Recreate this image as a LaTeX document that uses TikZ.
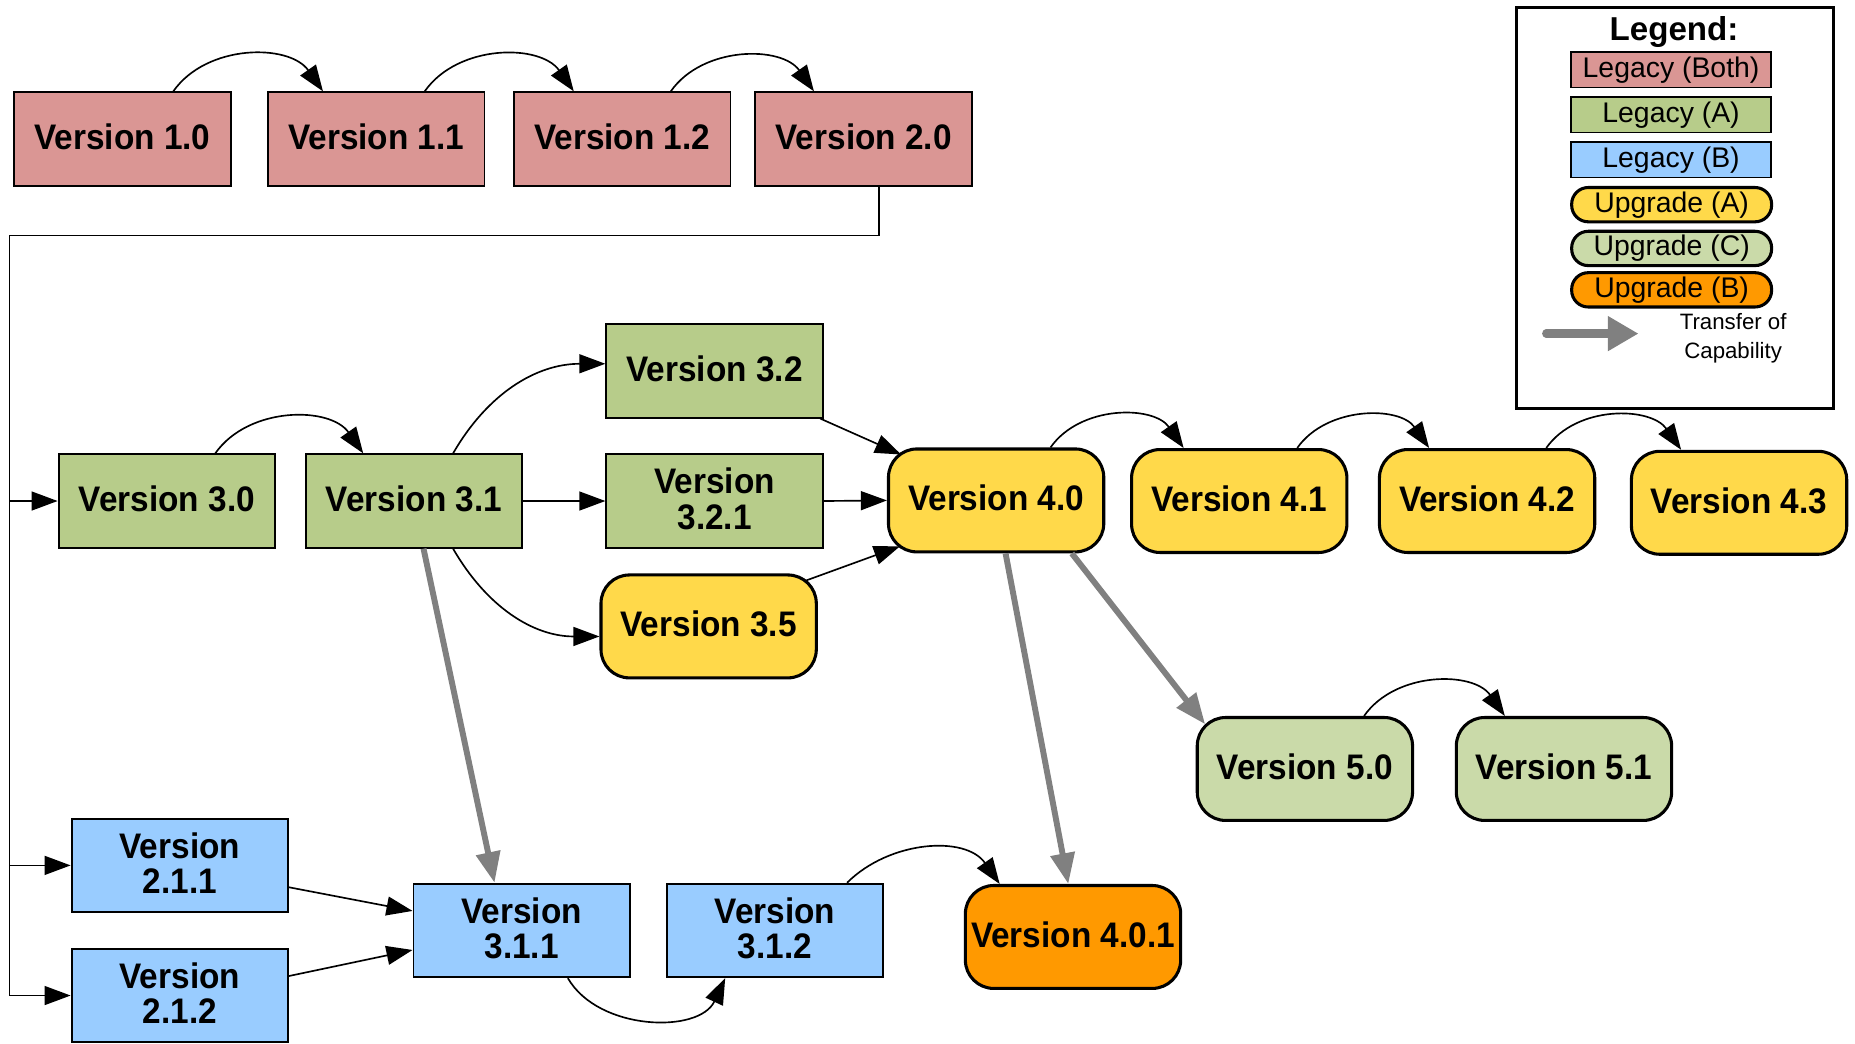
\documentclass[tikz,border=0pt]{standalone}
\usepackage{fontspec}
\setmainfont{Liberation Sans}
\newfontfamily\verfam[FakeStretch=0.94]{Liberation Sans}
\usetikzlibrary{arrows.meta,calc}
\definecolor{cBoth}{HTML}{DA9694}
\definecolor{cLA}{HTML}{B7CC8A}
\definecolor{cLB}{HTML}{99CCFF}
\definecolor{cUA}{HTML}{FFD94A}
\definecolor{cUC}{HTML}{CADAA9}
\definecolor{cUB}{HTML}{FF9900}
\definecolor{cGray}{HTML}{808080}
\newcommand\verfont{\verfam\fontsize{15}{15}\selectfont\bfseries}
\newcommand\legfont{\fontsize{12}{13}\selectfont}
\begin{document}
\begin{tikzpicture}[x=0.5pt,y=0.5pt,
  sq/.style={draw=black, line width=0.8pt, minimum width=91.5pt, minimum height=39.5pt, inner sep=0pt, align=center, text depth=2pt, font=\verfont},
  rd/.style={draw=black, line width=1.3pt, rounded corners=12pt, minimum width=91pt, minimum height=43.5pt, inner sep=0pt, align=center, text depth=2pt, font=\verfont},
  lsq/.style={draw=black, line width=0.8pt, minimum width=84.5pt, minimum height=15pt, inner sep=0pt, font=\legfont},
  lrd/.style={draw=black, line width=1.3pt, rounded corners=7pt, minimum width=84.5pt, minimum height=14.5pt, inner sep=0pt, font=\legfont},
  arr/.style={-{Triangle[length=11pt,width=8pt]}, line width=0.7pt},
  xfer/.style={-{Triangle[length=13pt,width=10pt]}, line width=2.5pt, draw=cGray},
  arc/.style={out=55,in=125}
]
\useasboundingbox (0,0) rectangle (1568,-882);

% Row 1
\node[sq,fill=cBoth] (v10) at (103.5,-117.5) {Version 1.0};
\node[sq,fill=cBoth] (v11) at (318,-117.5) {Version 1.1};
\node[sq,fill=cBoth] (v12) at (526,-117.5) {Version 1.2};
\node[sq,fill=cBoth] (v20) at (730,-117.5) {Version 2.0};

% Row 3 legacy A
\node[sq,fill=cLA] (v30) at (141,-423.5) {Version 3.0};
\node[sq,fill=cLA] (v31) at (350,-423.5) {Version 3.1};
\node[sq,fill=cLA] (v32) at (604,-313.5) {Version 3.2};
\node[sq,fill=cLA] (v321) at (604,-423.5) {Version\\3.2.1};
\node[rd,fill=cUA] (v35) at (599,-529.5) {Version 3.5};

% Upgrade A
\node[rd,fill=cUA] (v40) at (842,-423) {Version 4.0};
\node[rd,fill=cUA] (v41) at (1047.5,-423.5) {Version 4.1};
\node[rd,fill=cUA] (v42) at (1257,-423.5) {Version 4.2};
\node[rd,fill=cUA] (v43) at (1470,-425) {Version 4.3};

% Upgrade C
\node[rd,fill=cUC] (v50) at (1103,-650) {Version 5.0};
\node[rd,fill=cUC] (v51) at (1322,-650) {Version 5.1};

% Legacy B
\node[sq,fill=cLB] (v211) at (152,-731.5) {Version\\2.1.1};
\node[sq,fill=cLB] (v212) at (152,-841.5) {Version\\2.1.2};
\node[sq,fill=cLB] (v311) at (441,-786.5) {Version\\3.1.1};
\node[sq,fill=cLB] (v312) at (655,-786.5) {Version\\3.1.2};

% Upgrade B
\node[rd,fill=cUB] (v401) at (907,-792) {Version 4.0.1};

% sequence arcs
\draw[arr] ($(v10.north)+(43,0)$) to[arc] ($(v11.north)+(-45,0)$);
\draw[arr] ($(v11.north)+(41,0)$) to[arc] ($(v12.north)+(-41,0)$);
\draw[arr] ($(v12.north)+(41,0)$) to[arc] ($(v20.north)+(-42,0)$);
\draw[arr] ($(v30.north)+(41,0)$) to[arc] ($(v31.north)+(-43,0)$);
\draw[arr] ($(v40.north)+(46,0)$) to[arc] ($(v41.north)+(-47,0)$);
\draw[arr] ($(v41.north)+(49,0)$) to[arc] ($(v42.north)+(-49,0)$);
\draw[arr] ($(v42.north)+(50,0)$) to[arc] ($(v43.north)+(-49,0)$);
\draw[arr] ($(v50.north)+(50,0)$) to[arc] ($(v51.north)+(-50,0)$);
\draw[arr] ($(v312.north)+(61,0)$) to[out=45,in=125] ($(v401.north)+(-62,0)$);
\draw[arr] ($(v311.south)+(39,0)$) to[out=-60,in=-115] ($(v312.south)+(-42,0)$);

% trunk from 2.0
\coordinate (t1) at (743,-199);
\coordinate (t2) at (8,-199);
\draw[line width=0.7pt] ($(v20.south)+(13,0)$) -- (t1) -- (t2);
\draw[arr] (t2) |- (v30.west);
\draw[arr] (t2) |- (v211.west);
\draw[arr] (t2) |- (v212.west);

% 3.x connectors
\draw[arr] ($(v31.north)+(33,0)$) to[out=60,in=180] ($(v32.west)+(0,6)$);
\draw[arr] (v31.east) -- (v321.west);
\draw[arr] ($(v31.south)+(33,0)$) to[out=-60,in=180] ($(v35.west)+(0,-8.5)$);
\draw[arr] ($(v32.south east)+(-3,0)$) -- ($(v40.north west)+(12,-6)$);
\draw[arr] (v321.east) -- (v40.west);
\draw[arr] ($(v35.north east)+(-10,-6)$) -- ($(v40.south west)+(11,6)$);

% 2.1.x to 3.1.1
\draw[arr] ($(v211.east)+(0,-18.5)$) -- ($(v311.west)+(0,16.5)$);
\draw[arr] ($(v212.east)+(0,16.5)$) -- ($(v311.west)+(0,-16.5)$);

% transfer of capability
\draw[xfer] ($(v31.south)+(8,0)$) -- ($(v311.north)+(-23,0)$);
\draw[xfer] ($(v40.south)+(8,0)$) -- ($(v401.north)+(-4,0)$);
\draw[xfer] ($(v40.south)+(64,0)$) -- ($(v50.north west)+(8,-7)$);

% Legend
\node[draw=black, line width=1.3pt, minimum width=134pt, minimum height=169.5pt, inner sep=0pt] (legend) at (1416,-175.5) {};
\node[font=\fontsize{14}{15}\selectfont\bfseries, inner sep=0pt] (legt) at (1415,-27) {Legend:};
\node[lsq,fill=cBoth] (l1) at (1412.5,-59) {Legacy (Both)};
\node[lsq,fill=cLA] (l2) at (1412.5,-97) {Legacy (A)};
\node[lsq,fill=cLB] (l3) at (1412.5,-135) {Legacy (B)};
\node[lrd,fill=cUA] (l4) at (1413,-173) {Upgrade (A)};
\node[lrd,fill=cUC] (l5) at (1413,-210) {Upgrade (C)};
\node[lrd,fill=cUB] (l6) at (1413,-245) {Upgrade (B)};
\coordinate (la) at (1307,-282);
\coordinate (lb) at (1385,-282);
\draw[line width=3.5pt, cGray, line cap=round, -{Triangle[length=13pt,width=14pt]}] (la) -- (lb);
\node[align=center, font=\fontsize{9.4}{12}\selectfont, inner sep=0pt] (lt) at (1465,-286) {Transfer of\\Capability};
\end{tikzpicture}
\end{document}
